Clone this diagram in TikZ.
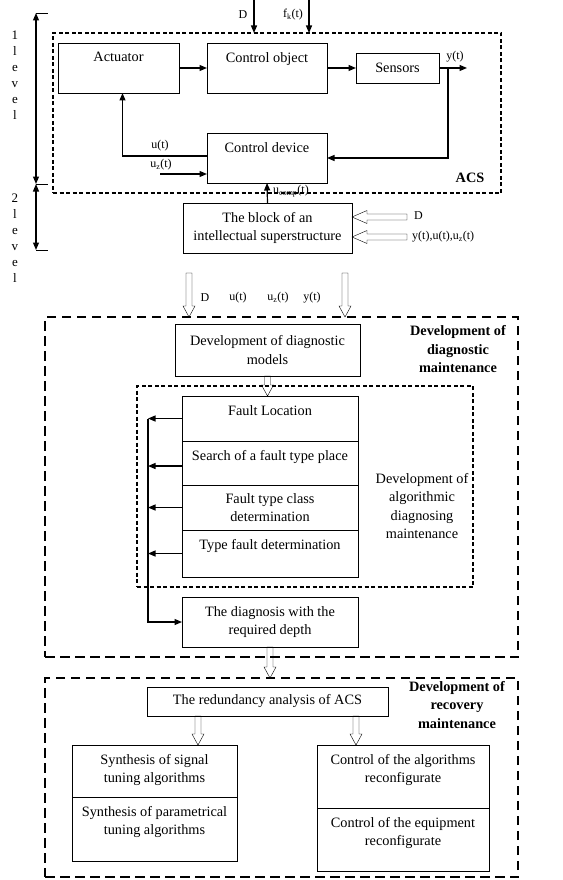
\documentclass[tikz,border=0pt]{standalone}
\usepackage{fontspec}
\setmainfont{Liberation Serif}
\usetikzlibrary{arrows.meta,calc}
\newcommand{\mfont}{\fontsize{14.3}{18.5}\selectfont}
\newcommand{\sfont}{\fontsize{12}{14}\selectfont}
\begin{document}
\begin{tikzpicture}[x=1pt,y=-1pt,
  box/.style={draw, line width=0.8pt, anchor=north west, inner sep=0pt, outer sep=0pt, font=\mfont, align=center},
  tlbl/.style={anchor=north, inner sep=0pt, yshift=-9pt, font=\mfont, align=center},
  arr/.style={line width=1.2pt, -{Triangle[length=7.5pt,width=6pt]}},
  darr/.style={line width=1.2pt, {Triangle[length=7.5pt,width=6pt]}-{Triangle[length=7.5pt,width=6pt]}},
  thindash/.style={draw, line width=1.3pt, dash pattern=on 4pt off 2.5pt, anchor=north west, inner sep=0pt, outer sep=0pt},
  thickdash/.style={draw, line width=2.8pt, dash pattern=on 9.5pt off 5.5pt, anchor=north west, inner sep=0pt, outer sep=0pt},
  sig/.style={font=\sfont, inner sep=0pt},
  hdown/.style={line width=0.9pt, to path={let \p1=(\tikztostart), \p2=(\tikztotarget) in
     (\x1-3pt,\y1) -- (\x1-3pt,\y2+11pt) -- (\x1-6pt,\y2+11pt) -- (\x1,\y2) -- (\x1+6pt,\y2+11pt) -- (\x1+3pt,\y2+11pt) -- (\x1+3pt,\y1) -- cycle}},
  hleft/.style={line width=0.9pt, to path={let \p1=(\tikztostart), \p2=(\tikztotarget) in
     (\x1,\y1-3pt) -- (\x2+15pt,\y1-3pt) -- (\x2+15pt,\y1-6.5pt) -- (\x2,\y1) -- (\x2+15pt,\y1+6.5pt) -- (\x2+15pt,\y1+3pt) -- (\x1,\y1+3pt) -- cycle}},
]
\useasboundingbox (0,0) rectangle (562,880);

% dashed frames
\node[thindash, minimum width=448pt, minimum height=160pt] (acs) at (53,33) {};
\node[thickdash, minimum width=473pt, minimum height=340pt] (diagbig) at (45,317) {};
\node[thindash, minimum width=336pt, minimum height=201pt] (inner) at (137,386) {};
\node[thickdash, minimum width=473pt, minimum height=199pt] (recbig) at (45,678) {};

% level marks
\coordinate (lv1t) at (36,13);
\coordinate (lvm) at (36,184);
\coordinate (lv2b) at (36,250);
\draw[darr] (lv1t) -- (lvm);
\draw[darr] (lvm) -- (lv2b);
\draw[line width=0.8pt] (lv1t) -- ++(12,0);
\draw[line width=0.8pt] (lvm) -- ++(12,0);
\draw[line width=0.8pt] (lv2b) -- ++(12,0);
\node[font=\fontsize{13}{16}\selectfont, align=center, inner sep=0pt] (lvt1) at (15,75) {1\\l\\e\\v\\e\\l};
\node[font=\fontsize{13}{16}\selectfont, align=center, inner sep=0pt] (lvt2) at (15,238) {2\\l\\e\\v\\e\\l};

% level 1 blocks
\node[box, minimum width=121pt, minimum height=50pt, label={[tlbl]north:Actuator}] (act) at (58,43) {};
\node[box, minimum width=120pt, minimum height=50pt, label={[tlbl]north:Control object}] (cobj) at (207,43) {};
\node[box, minimum width=83pt, minimum height=30pt] (sens) at (356,53) {Sensors};
\node[box, minimum width=120pt, minimum height=50pt, label={[tlbl]north:Control device}] (cdev) at (207,133) {};
\node[font=\mfont\bfseries, inner sep=0pt] (acslbl) at (470,178) {ACS};

\draw[arr] (act.east) -- (cobj.west);
\draw[arr] (cobj.east) -- (sens.west);
\coordinate (yo) at (467,68);
\coordinate (yb) at (448,68);
\draw[arr] (sens.east) -- (yo);
\node[sig] (ylbl) at (455,57) {y(t)};
\draw[arr] (yb) |- (cdev.east);
\draw[arr] ($(cdev.west)+(0,-2)$) -| ($(act.south)+(4,0)$);
\node[sig] (ulbl) at (160,146) {u(t)};
\coordinate (uzs) at (160,174);
\draw[arr] (uzs) -- (uzs -| cdev.west);
\node[sig] (uzlbl) at (161,165) {u\textsubscript{z}(t)};

\coordinate (cD) at (254,0);
\coordinate (cF) at (309,0);
\draw[arr] (cD) -- (cD |- acs.north);
\draw[arr] (cF) -- (cF |- acs.north);
\node[sig] (dlbl) at (243,15) {D};
\node[sig] (flbl) at (293,15) {f\textsubscript{k}(t)};

% superstructure
\node[box, minimum width=169pt, minimum height=50pt] (blk) at (183,203) {The block of an\\intellectual superstructure};
\draw[arr] (blk.north) -- (cdev.south);
\node[sig, anchor=west] (uclbl) at (273,191) {u\textsubscript{comp}(t)};
\coordinate (hD) at (407,217);
\coordinate (hY) at (407,237);
\draw (hD) to[hleft] (hD -| blk.east);
\draw (hY) to[hleft] (hY -| blk.east);
\node[sig, anchor=west] (d2lbl) at (414,216) {D};
\node[sig, anchor=west] (yulbl) at (412,237) {y(t),u(t),u\textsubscript{z}(t)};

% transfer to diagnostics
\coordinate (ha1) at (189,273);
\coordinate (ha2) at (345,273);
\draw (ha1) to[hdown] (ha1 |- diagbig.north);
\draw (ha2) to[hdown] (ha2 |- diagbig.north);
\node[sig] (t1) at (205,298) {D};
\node[sig] (t2) at (238,298) {u(t)};
\node[sig] (t3) at (278,298) {u\textsubscript{z}(t)};
\node[sig] (t4) at (312,298) {y(t)};

% diagnostic maintenance
\node[font=\mfont\bfseries, align=center, inner sep=0pt, text depth=0pt] (diaglbl) at (458,349) {Development of\\diagnostic\\maintenance};
\node[box, minimum width=185pt, minimum height=52pt] (models) at (175,324) {Development of diagnostic\\models};
\node[box, minimum width=176pt, minimum height=45pt, label={[tlbl]north:Fault Location}] (fl) at (182,396) {};
\node[box, minimum width=176pt, minimum height=44pt, label={[tlbl]north:Search of a fault type place}] (sf) at (182,441) {};
\node[box, minimum width=176pt, minimum height=45pt] (ftc) at (182,485) {Fault type class\\determination};
\node[box, minimum width=176pt, minimum height=47pt, label={[tlbl]north:Type fault determination}] (tfd) at (182,530) {};
\node[font=\mfont, align=center, inner sep=0pt] (innerlbl) at (422,506) {Development of\\algorithmic\\diagnosing\\maintenance};
\node[box, minimum width=176pt, minimum height=50pt] (diag) at (182,597) {The diagnosis with the\\required depth};
\draw (models.south) to[hdown] (fl.north);

\coordinate (bx) at (148,0);
\draw[arr] (fl.west) -- (fl.west -| bx);
\draw[arr] ($(sf.west)+(0,3)$) -- ($(sf.west -| bx)+(0,3)$);
\draw[arr] (ftc.west) -- (ftc.west -| bx);
\draw[arr] (tfd.west) -- (tfd.west -| bx);
\draw[arr] (fl.west -| bx) |- (diag.west);

\draw (diag.south) to[hdown] (recbig.north);

% recovery maintenance
\node[font=\mfont\bfseries, align=center, inner sep=0pt] (reclbl) at (457,705) {Development of\\recovery\\maintenance};
\node[box, minimum width=241pt, minimum height=29pt] (red) at (147,687) {The redundancy analysis of ACS};
\node[box, minimum width=165pt, minimum height=52pt, label={[tlbl]north:{Synthesis of signal\\tuning algorithms}}] (s1) at (72,745) {};
\node[box, minimum width=165pt, minimum height=64pt, label={[tlbl]north:{Synthesis of parametrical\\tuning algorithms}}] (s2) at (72,797) {};
\node[box, minimum width=172pt, minimum height=63pt, label={[tlbl]north:{Control of the algorithms\\reconfigurate}}] (c1) at (317,745) {};
\node[box, minimum width=172pt, minimum height=63pt, label={[tlbl]north:{Control of the equipment\\reconfigurate}}] (c2) at (317,808) {};
\coordinate (hx1) at (198,0);
\coordinate (hx2) at (356,0);
\draw (red.south -| hx1) to[hdown] (s1.north -| hx1);
\draw (red.south -| hx2) to[hdown] (c1.north -| hx2);
\end{tikzpicture}
\end{document}
